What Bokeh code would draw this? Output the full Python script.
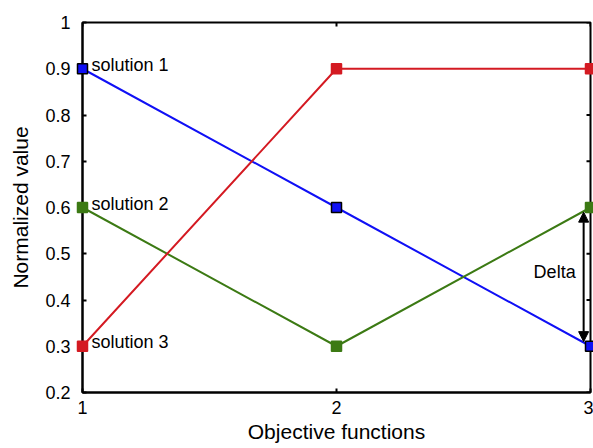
import math

from bokeh.plotting import figure
from bokeh.models import Arrow, NormalHead, FixedTicker, Label
from bokeh.core.properties import value
from bokeh.embed import file_html
from bokeh.resources import INLINE

# Normalized objective values of three candidate solutions
objectives = [1, 2, 3]
solution_1 = [0.9, 0.6, 0.3]
solution_2 = [0.6, 0.3, 0.6]
solution_3 = [0.3, 0.9, 0.9]
series_names = ["solution 1", "solution 2", "solution 3"]

x_ticks = [1, 2, 3]
y_ticks = [0.2, 0.3, 0.4, 0.5, 0.6, 0.7, 0.8, 0.9, 1.0]
y_tick_labels = ["0.2", "0.3", "0.4", "0.5", "0.6", "0.7", "0.8", "0.9", "1"]

FONT = "Liberation Sans"
BLUE = "#1010f5"
RED = "#d41a22"
GREEN = "#3c7a14"

x_lo, x_hi = 1, 3
y_lo, y_hi = 0.2, 1.0

p = figure(width=593, height=448, x_range=(x_lo, x_hi), y_range=(y_lo, y_hi),
           output_backend="svg", toolbar_location=None,
           min_border_left=82, min_border_right=3,
           min_border_top=22, min_border_bottom=56,
           x_axis_label="Objective functions", y_axis_label="Normalized value")
p.grid.visible = False
p.outline_line_color = "black"
p.outline_line_width = 2

p.xaxis.ticker = FixedTicker(ticks=x_ticks)
p.yaxis.ticker = FixedTicker(ticks=y_ticks)
p.yaxis.major_label_overrides = dict(zip(y_ticks, y_tick_labels))
for ax in (p.xaxis[0], p.yaxis[0]):
    ax.axis_line_color = "black"
    ax.axis_line_width = 2
    ax.major_tick_in = 4
    ax.major_tick_out = 0
    ax.major_tick_line_width = 2
    ax.minor_tick_line_color = None
    ax.major_label_text_font = FONT
    ax.major_label_text_font_size = "18px"
    ax.major_label_text_color = "black"
    ax.axis_label_text_font = FONT
    ax.axis_label_text_font_size = "21px"
    ax.axis_label_text_font_style = "normal"
    ax.axis_label_text_color = "black"
p.yaxis.major_label_standoff = 12
p.yaxis.axis_label_standoff = 10
p.xaxis.major_label_standoff = 8
p.xaxis.axis_label_standoff = 3

# mirrored inward tick marks along the top and right edges of the box
# (half of each dash is clipped away by the frame)
p.scatter([x_hi] * len(y_ticks), y_ticks, marker="dash", size=8,
          line_color="black", line_width=2)
p.scatter(x_ticks, [y_hi] * len(x_ticks), marker="dash", size=8, angle=math.pi / 2,
          line_color="black", line_width=2)

series = [solution_1, solution_2, solution_3]
colors = [BLUE, GREEN, RED]
outlines = ["black", GREEN, RED]
for vals, col in zip(series, colors):
    p.line(objectives, vals, line_color=col, line_width=2)
for vals, col, edge in zip(series, colors, outlines):
    p.scatter(objectives, vals, marker="square", size=10, fill_color=col,
              line_color=edge, line_width=1.5, level="overlay")

# series names next to their first point
p.text(x=[objectives[0]] * 3, y=[s[0] for s in series], text=series_names,
       text_font=value(FONT), text_font_size="18px", text_color="black",
       text_baseline="middle", text_align="left", x_offset=9, y_offset=-4)

# spread between solution 2 and solution 1 on the last objective
arrow_x = objectives[-1] - 0.027
p.add_layout(Arrow(
    start=NormalHead(size=10, fill_color="black", line_color="black"),
    end=NormalHead(size=10, fill_color="black", line_color="black"),
    x_start=arrow_x, y_start=solution_1[-1] + 0.01,
    x_end=arrow_x, y_end=solution_2[-1] - 0.01,
    line_color="black", line_width=2))
p.add_layout(Label(x=arrow_x, y=(solution_1[-1] + solution_2[-1]) / 2,
                   text="Delta", text_font=FONT, text_font_size="18px",
                   text_color="black", text_align="right", text_baseline="middle",
                   x_offset=-8, y_offset=5))

open("out.html", "w").write(file_html(p, INLINE))
